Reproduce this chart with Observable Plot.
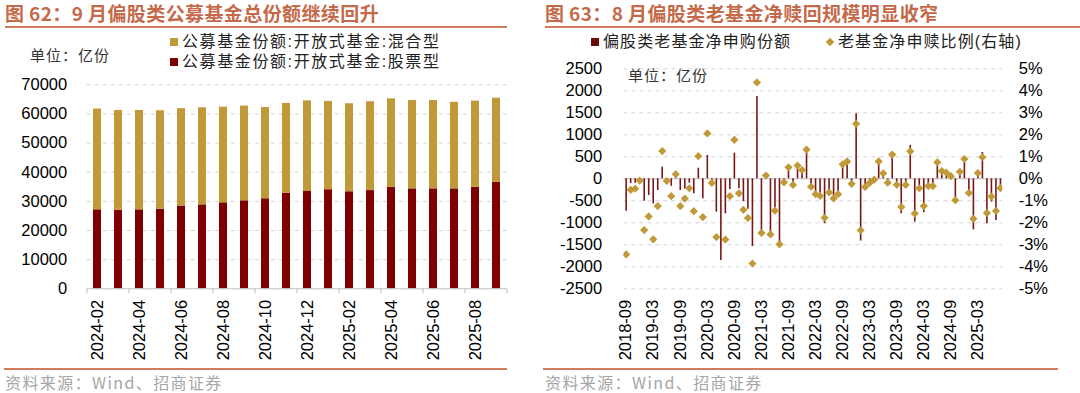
<!DOCTYPE html>
<html>
<head>
<meta charset="utf-8">
<script src="https://cdn.jsdelivr.net/npm/d3@7"></script>
<script src="https://cdn.jsdelivr.net/npm/@observablehq/plot@0.6"></script>
<style>
  html, body { margin: 0; padding: 0; background: #fff; }
  #page { position: relative; width: 1080px; height: 393px; overflow: hidden; background: #fff;
          font-family: "Noto Sans CJK SC", "Noto Sans", sans-serif; }
  .title { position: absolute; top: 2px; font-size: 19px; font-weight: bold; color: #C46A4A; line-height: 22px; white-space: nowrap; letter-spacing: 0.4px; }
  .hline { position: absolute; height: 2px; background: #D27C5E; }
  .foot { position: absolute; top: 373px; font-size: 16px; color: #a6a6a6; line-height: 18px; white-space: nowrap; letter-spacing: 1.4px; }
  .leg { position: absolute; font-family: "Liberation Sans", Arial, "Noto Sans CJK SC", sans-serif; font-size: 16px; letter-spacing: 1.6px; color: #222; line-height: 20px; white-space: nowrap; }
  .sq { position: absolute; width: 8px; height: 8px; }
  .unit { position: absolute; font-size: 15px; color: #333; line-height: 18px; letter-spacing: 1px; white-space: nowrap; }
  .chart { position: absolute; }
</style>
</head>
<body>
<div id="page">
  <div class="title" style="left:5px;">图 62：9 月偏股类公募基金总份额继续回升</div>
  <div class="hline" style="left:5px; top:26px; width:502px;"></div>
  <div class="title" style="left:545px;">图 63：8 月偏股类老基金净赎回规模明显收窄</div>
  <div class="hline" style="left:545px; top:26px; width:535px;"></div>

  <div class="sq" style="left:170px; top:38px; background:#C09A38;"></div>
  <div class="leg" style="left:182px; top:32px;">公募基金份额:开放式基金:混合型</div>
  <div class="sq" style="left:170px; top:58px; background:#7F0000;"></div>
  <div class="leg" style="left:182px; top:52px;">公募基金份额:开放式基金:股票型</div>
  <div class="unit" style="left:30px; top:46px;">单位：亿份</div>

  <div class="sq" style="left:591px; top:38px; background:#6B0C0C;"></div>
  <div class="leg" style="left:603px; top:32px; letter-spacing:1.1px;">偏股类老基金净申购份额</div>
  <div class="sq" style="left:827px; top:39px; width:6px; height:6px; background:#C09A38; transform:rotate(45deg);"></div>
  <div class="leg" style="left:838px; top:32px; letter-spacing:1.1px;">老基金净申赎比例(右轴)</div>
  <div class="unit" style="left:628px; top:66px;">单位：亿份</div>

  <div id="left" class="chart" style="left:0px; top:70px;"></div>
  <div id="right" class="chart" style="left:540px; top:50px;"></div>

  <div class="hline" style="left:4px; top:368px; width:503px;"></div>
  <div class="hline" style="left:543px; top:368px; width:515px;"></div>
  <div class="foot" style="left:5px;">资料来源：Wind、招商证券</div>
  <div class="foot" style="left:545px;">资料来源：Wind、招商证券</div>
</div>
<script>
// ---------- Left chart data (亿份) ----------
const months = ["2024-02","2024-03","2024-04","2024-05","2024-06","2024-07","2024-08","2024-09","2024-10","2024-11",
                "2024-12","2025-01","2025-02","2025-03","2025-04","2025-05","2025-06","2025-07","2025-08","2025-09"];
const stockShares = [27100,27000,27100,27300,28400,28800,29500,30200,30900,32800,
                     33400,34000,33300,33700,34800,34300,34300,34300,34800,36500];
const mixedShares = [34600,34200,34100,33800,33400,33300,32800,32500,31300,30800,
                     31100,30300,30200,30500,30400,30300,30300,29700,29600,28900];
const seriesNames = ["公募基金份额:开放式基金:股票型","公募基金份额:开放式基金:混合型"];
const leftYTicks = [0,10000,20000,30000,40000,50000,60000,70000];

// ---------- Right chart data ----------
const rMonths = [
 "2018-09","2018-10","2018-11","2018-12","2019-01","2019-02","2019-03","2019-04","2019-05","2019-06","2019-07","2019-08",
 "2019-09","2019-10","2019-11","2019-12","2020-01","2020-02","2020-03","2020-04","2020-05","2020-06","2020-07","2020-08",
 "2020-09","2020-10","2020-11","2020-12","2021-01","2021-02","2021-03","2021-04","2021-05","2021-06","2021-07","2021-08",
 "2021-09","2021-10","2021-11","2021-12","2022-01","2022-02","2022-03","2022-04","2022-05","2022-06","2022-07","2022-08",
 "2022-09","2022-10","2022-11","2022-12","2023-01","2023-02","2023-03","2023-04","2023-05","2023-06","2023-07","2023-08",
 "2023-09","2023-10","2023-11","2023-12","2024-01","2024-02","2024-03","2024-04","2024-05","2024-06","2024-07","2024-08",
 "2024-09","2024-10","2024-11","2024-12","2025-01","2025-02","2025-03","2025-04","2025-05","2025-06","2025-07","2025-08"];
const netFlow = [
 -740,-110,-100,-15,-510,-380,-570,-265,265,-25,-170,45,
 -265,-230,-100,-340,240,-455,530,-50,-757,-1856,-795,-245,
 583,-225,-520,-690,-1540,1870,-1200,70,-1290,-660,-1480,-80,
 200,-130,230,180,630,-190,-360,-410,-1020,-350,-480,-400,
 310,370,-130,1480,-1415,-215,-115,-25,440,150,-110,560,
 -165,-795,-175,760,-985,-270,-770,-210,-210,350,200,165,
 50,-530,200,480,-400,-1160,160,600,-1020,-530,-945,-270];
const netRatio = [
 -3.44,-0.5,-0.45,-0.08,-2.33,-1.71,-2.75,-1.24,1.26,-0.1,-0.79,0.21,
 -1.24,-0.9,-0.43,-1.47,1.03,-1.74,2.06,-0.19,-2.65,-6.4,-2.76,-0.79,
 1.77,-0.66,-1.41,-1.78,-3.85,4.38,-2.46,0.15,-2.53,-1.45,-2.98,-0.16,
 0.52,-0.28,0.6,0.4,1.33,-0.36,-0.7,-0.78,-1.77,-0.62,-0.89,-0.7,
 0.66,0.79,-0.23,2.5,-2.34,-0.37,-0.19,-0.04,0.79,0.25,-0.18,1.1,
 -0.27,-1.28,-0.28,1.25,-1.58,-0.43,-1.24,-0.33,-0.33,0.75,0.35,0.28,
 0.12,-0.97,0.32,0.9,-0.64,-1.82,0.26,0.98,-1.55,-0.81,-1.46,-0.42];
const rLeftTicks = [-2500,-2000,-1500,-1000,-500,0,500,1000,1500,2000,2500];
const rPctTicks = [-5,-4,-3,-2,-1,0,1,2,3,4,5];
const pctToLeft = 500; // 1% on the right axis equals 500 on the left axis

const axisFont = "Arial, 'Liberation Sans', sans-serif";

// ---------- Left chart ----------
const leftData = months.flatMap((m, i) => [
  {month: m, series: seriesNames[0], value: stockShares[i]},
  {month: m, series: seriesNames[1], value: mixedShares[i]}
]);
const oddMonths = months.filter((d, i) => i % 2 === 1);
const evenMonths = months.filter((d, i) => i % 2 === 0);

const left = Plot.plot({
  width: 535, height: 300,
  marginTop: 14.3, marginBottom: 81.7, marginLeft: 86.7, marginRight: 28.3,
  style: {fontFamily: axisFont, fontSize: "16.5px", color: "#000", background: "transparent"},
  x: {type: "band", domain: months, paddingInner: 0.6, paddingOuter: 0.3, axis: null},
  y: {domain: [0, 70000], axis: null},
  color: {domain: seriesNames, range: ["#7F0000", "#C09A38"]},
  marks: [
    Plot.gridY({ticks: leftYTicks.filter(d => d > 0), stroke: "#d4d4d4", strokeOpacity: 1, strokeDasharray: "4,4"}),
    Plot.barY(leftData, {x: "month", y: "value", fill: "series"}),
    Plot.ruleY([0], {stroke: "#bfbfbf"}),
    Plot.axisY({ticks: leftYTicks, tickSize: 0, tickPadding: 20, tickFormat: d => String(d), label: null}),
    Plot.axisX({ticks: oddMonths, tickSize: 5, tickFormat: () => "", dx: 10.5, stroke: "#bfbfbf", label: null}),
    Plot.axisX({ticks: [months[0]], tickSize: 5, tickFormat: () => "", dx: -10.5, stroke: "#bfbfbf", label: null}),
    Plot.axisX({ticks: evenMonths, tickSize: 0, tickPadding: 11, tickRotate: -90, label: null})
  ]
});
document.getElementById("left").appendChild(left);

// ---------- Right chart ----------
const rData = rMonths.map((m, i) => ({month: m, flow: netFlow[i], ratio: netRatio[i]}));
const labelMonths = rMonths.filter((d, i) => i % 6 === 0);

const right = Plot.plot({
  width: 540, height: 320,
  marginTop: 18.3, marginBottom: 81.7, marginLeft: 83.4, marginRight: 77.8,
  style: {fontFamily: axisFont, fontSize: "16.5px", color: "#000", background: "transparent"},
  x: {type: "band", domain: rMonths, padding: 0, axis: null},
  y: {domain: [-2500, 2500], axis: null},
  marks: [
    Plot.gridY({ticks: rLeftTicks.filter(d => d !== 0), stroke: "#d4d4d4", strokeOpacity: 1, strokeDasharray: "4,4"}),
    Plot.ruleY([0], {stroke: "#bfbfbf"}),
    Plot.ruleX(rData, {x: "month", y1: 0, y2: "flow", stroke: "#7A1515", strokeWidth: 1.6}),
    Plot.dot(rData, {x: "month", y: d => d.ratio * pctToLeft, symbol: "diamond2", r: 3.7,
                     fill: "#C09A38", stroke: "none", clip: true}),
    Plot.axisY({ticks: rLeftTicks, tickSize: 0, tickPadding: 21.7, tickFormat: d => String(d), label: null}),
    Plot.axisY({anchor: "right", ticks: rPctTicks.map(p => p * pctToLeft), tickSize: 0, tickPadding: 16,
                tickFormat: d => (d / pctToLeft) + "%", label: null}),
    Plot.axisX({ticks: labelMonths, tickSize: 0, tickPadding: 11, tickRotate: -90, label: null})
  ]
});
document.getElementById("right").appendChild(right);
</script>
</body>
</html>
